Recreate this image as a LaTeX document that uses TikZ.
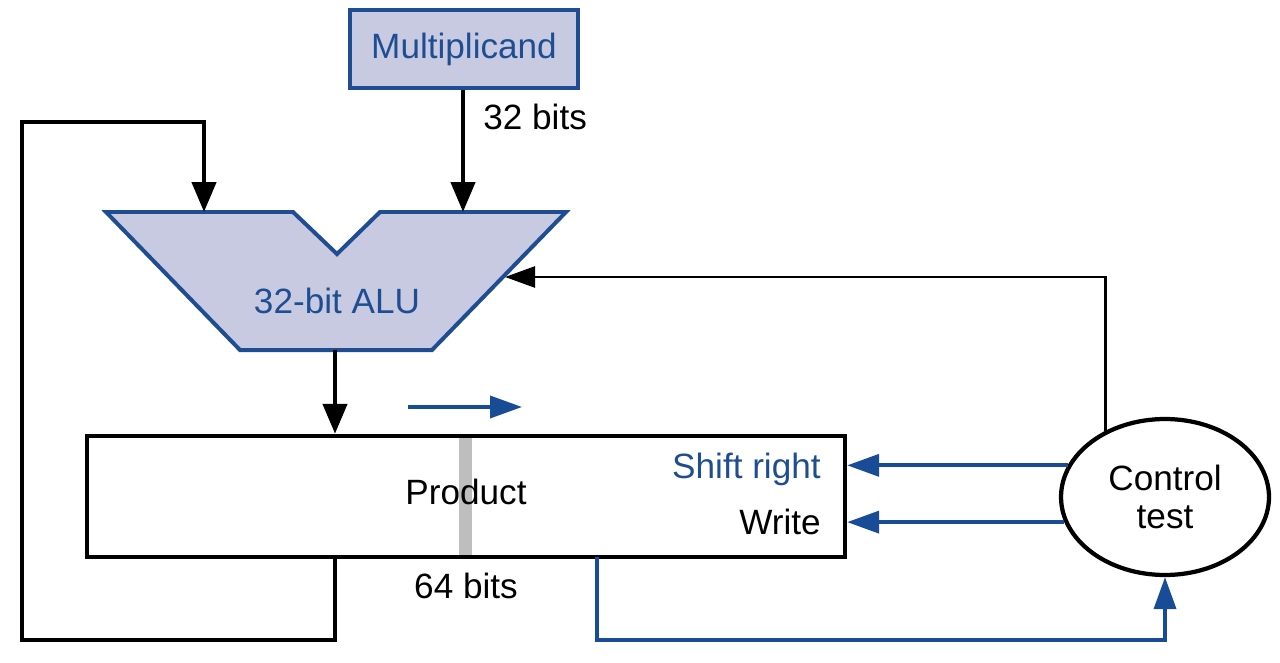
\documentclass[tikz,border=0pt]{standalone}
\usepackage{fontspec}
\setmainfont{Liberation Sans}
\usetikzlibrary{arrows.meta,shapes.geometric,calc}
\definecolor{hblue}{RGB}{30,78,145}
\definecolor{ablue}{RGB}{24,76,150}
\definecolor{lav}{RGB}{200,202,226}
\definecolor{stripe}{RGB}{190,190,190}
\tikzset{
  lbl/.style={font=\fontsize{20}{24}\selectfont, inner sep=0pt},
  blk/.style={line width=0.09cm, draw=black, line join=miter, -{Triangle[length=0.6cm,width=0.48cm]}},
  thin/.style={line width=0.05cm, draw=black, -{Triangle[length=0.6cm,width=0.42cm]}},
  blu/.style={line width=0.075cm, draw=ablue, line join=miter, -{Triangle[length=0.64cm,width=0.44cm]}, color=ablue},
}
\begin{document}
\begin{tikzpicture}[x=0.02cm,y=-0.02cm]
\useasboundingbox (0,0) rectangle (1280,662);

% Multiplicand
\node[draw=hblue, fill=lav, line width=0.08cm, minimum width=4.56cm, minimum height=1.56cm,
      lbl, text=hblue] (mult) at (464,49) {Multiplicand};
\node[lbl, anchor=west] (b32) at (483,117) {32 bits};

% ALU shape
\coordinate (alu1) at (106,212);
\coordinate (alu2) at (293,212);
\coordinate (alu3) at (337,254);
\coordinate (alu4) at (380,212);
\coordinate (alu5) at (566,212);
\coordinate (alu6) at (432,350);
\coordinate (alu7) at (240,350);
\draw[draw=hblue, fill=lav, line width=0.08cm, line join=miter]
  (alu1) -- (alu2) -- (alu3) -- (alu4) -- (alu5) -- (alu6) -- (alu7) -- cycle;
\node[lbl, text=hblue] (alu) at (337,301) {32-bit ALU};
\coordinate (aluA) at (204,212);
\coordinate (aluB) at (463,212);
\coordinate (aluOut) at (335,350);
\coordinate (aluR) at (505,277);

% Product register
\fill[stripe] (459,438) rectangle (472,555);
\node[draw, line width=0.09cm, minimum width=15.16cm, minimum height=2.42cm, inner sep=0pt] (prod) at (466,496.5) {};
\node[lbl] (ptext) at (466,492) {Product};
\node[lbl, anchor=east, text=hblue] (shr) at (821,469) {Shift right};
\node[lbl, anchor=east] (wr) at (821,522) {Write};
\node[lbl] (b64) at (466,586) {64 bits};

% Control
\node[draw, ellipse, line width=0.085cm, minimum width=4.16cm, minimum height=3.12cm,
      lbl, align=center] (ctrl) at (1165,497) {Control\\[-2pt]test};

% small shift arrow
\coordinate (sa) at (408,407);
\coordinate (sb) at (522,407);
\draw[blu] (sa) -- (sb);

% connectors
\draw[blk] (mult.south -| aluB) -- (aluB);
\coordinate (fbS) at (335,557);
\draw[blk] (fbS) -- (335,640) -- (22,640) -- (22,122) -- (204,122) -- (aluA);
\draw[blk] (aluOut) -- (aluOut |- prod.north);
\draw[thin] (ctrl.132) |- (aluR);
\draw[blu] (ctrl.162) -- (ctrl.162 -| prod.east);
\draw[blu] (ctrl.194) -- (ctrl.194 -| prod.east);
\coordinate (pb2) at (597,557);
\draw[blu] (pb2) -- (597,640) -| (ctrl.south);
\end{tikzpicture}
\end{document}
